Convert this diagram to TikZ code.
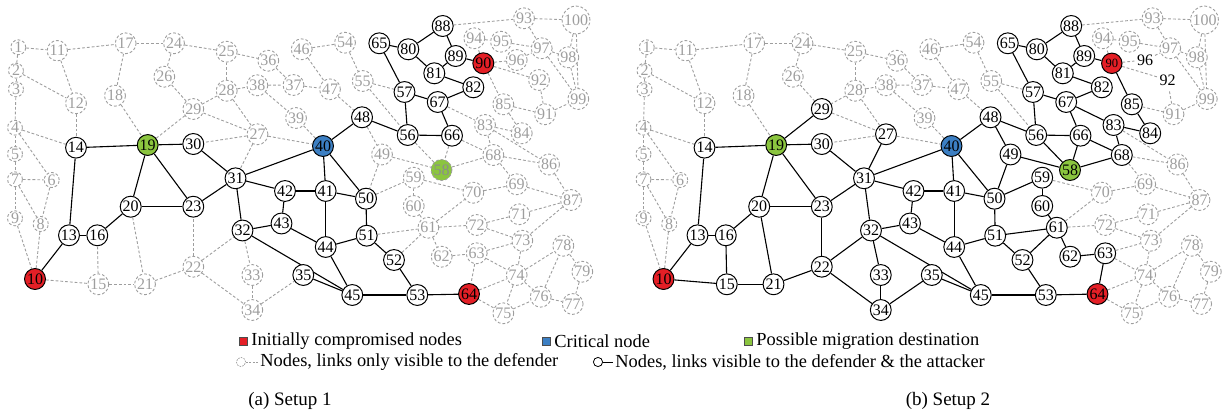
\documentclass[tikz,border=0pt]{standalone}
\usepackage{fontspec}
\setmainfont{Liberation Serif}
\pgfdeclarelayer{bg}
\pgfsetlayers{bg,main}

\definecolor{cred}{HTML}{E41F26}
\definecolor{cblue}{HTML}{3C7FC3}
\definecolor{cgreen}{HTML}{8BC53F}
\definecolor{cgrey}{HTML}{9E9E9E}

\newcommand\graphfont{\fontsize{8}{9}\selectfont}
\newcommand\legendfont{\fontsize{9.2}{11}\selectfont}
\newcommand\capfont{\fontsize{9.5}{11}\selectfont}

\tikzset{
  vis/.style={circle, draw=black, line width=0.5pt, fill=white, inner sep=0.3pt, font=\graphfont},
  hid/.style={circle, draw=cgrey, line width=0.45pt, dash pattern=on 1.4pt off 1pt,
              fill=white, text=cgrey, inner sep=0.3pt, font=\graphfont},
  plain/.style={circle, draw=none, inner sep=0.3pt, font=\graphfont},
  vislink/.style={black, line width=0.55pt},
  hidlink/.style={cgrey, line width=0.45pt, dash pattern=on 1.4pt off 1pt},
  legsq/.style={rectangle, draw=black!70, line width=0.3pt, minimum size=3.8pt, inner sep=0pt},
  legtext/.style={anchor=west, inner sep=0pt, font=\legendfont},
}

% node positions of the network (left copy; the right copy is shifted)
\def\nodepos{1/18.3/47.3, 2/16/70.7, 3/16/89.3, 4/15/127.7, 5/15/154, 6/51.7/180,
  7/15/179.3, 8/40.7/224, 9/15/218.3, 10/35/279, 11/57.3/50.7, 12/76/103.3,
  13/69/235.3, 14/76/147.7, 15/98.3/284.3, 16/97.3/235.3, 17/125.7/43.3, 18/115/95.7,
  19/147.7/145, 20/130.7/206.7, 21/145/284.3, 22/193.3/266.7, 23/193.3/206.7,
  24/174/43.3, 25/226.7/51.7, 26/164.3/76.7, 27/257.5/134.3, 28/226.7/90.7,
  29/193.3/109, 30/193.3/144, 31/235.5/178.3, 32/242.5/230.5, 33/252.3/275,
  34/252.3/310, 35/303.3/275, 36/268.3/60.7, 37/293.5/85, 38/257.3/85.3, 39/296/118,
  40/323/146, 41/325.7/191, 42/285/191, 43/281.5/223.5, 44/325.7/247, 45/352.3/295,
  46/301.7/49.3, 47/330/89.3, 48/362/117.3, 49/382/154.5, 50/366/198.7,
  51/366.7/235.7, 52/394/260, 53/417.3/295, 54/345/42.7, 55/362.7/81, 56/407.7/135,
  57/404.5/92, 58/441.5/170, 59/413.7/177.7, 60/413.7/206, 61/428.3/227.7,
  62/441.7/256.7, 63/476.7/253.3, 64/469/294, 65/379.3/43.3, 66/452/135.7,
  67/437.7/102, 68/493.3/155, 69/516.7/184.3, 70/473.3/192.7, 71/519.3/214.3,
  72/476.7/225, 73/522.3/240.7, 74/516.7/275, 75/503.3/313.3, 76/540.7/296.7,
  77/572.7/304, 78/563.3/245.7, 79/582.3/271.7, 80/408.3/49.3, 81/434.3/73.3,
  82/473.3/87.3, 83/485/125, 84/521.7/133.3, 85/503.3/104.3, 86/549/164.5,
  87/571/200, 88/442.7/26, 89/455.7/56, 90/483.3/63.3, 91/545/114.3, 92/539/80,
  93/524/18.3, 94/474.3/38.3, 95/501/41.7, 96/516.7/60, 97/541.7/48.3,
  98/568.3/57.3, 99/578.3/99, 100/576/20}

% links seen by the attacker in both setups
\def\linksA{10/13, 13/14, 13/16, 16/20, 14/19, 19/20, 19/23, 19/30, 20/23, 30/31,
  23/31, 31/40, 31/42, 31/32, 42/41, 42/43, 32/43, 43/44, 32/45, 35/45, 44/45,
  45/53, 53/64, 52/53, 51/52, 44/51, 41/44, 41/50, 40/41, 40/50, 40/48, 50/51,
  48/56, 56/57, 57/65, 56/66, 57/67, 66/67, 67/82, 81/82, 80/81, 65/80, 80/88,
  88/89, 81/89, 89/90}

% links hidden in setup 1, visible in setup 2
\def\linksX{10/15, 15/16, 15/21, 20/21, 21/22, 22/23, 22/32, 22/34, 32/33, 33/34,
  34/35, 19/29, 27/31, 48/49, 49/50, 49/58, 56/58, 66/58, 58/68, 66/68, 50/59,
  59/60, 60/61, 51/61, 52/61, 61/62, 62/63, 63/64, 67/83, 83/68, 83/84, 85/84, 90/85}

% links only the defender sees in both setups
\def\linksH{1/11, 1/2, 2/3, 3/4, 4/5, 5/7, 7/6, 7/9, 7/8, 6/8, 8/10, 9/10, 2/12,
  11/12, 12/14, 4/14, 4/6, 11/17, 17/24, 17/18, 18/19, 24/25, 24/26, 26/29, 25/36,
  25/28, 36/37, 28/38, 38/37, 28/29, 29/27, 28/27, 27/30, 27/40, 38/39, 39/40,
  37/47, 46/54, 46/47, 54/55, 55/57, 55/56, 47/48, 59/70, 61/70, 61/72, 72/71,
  72/73, 71/87, 70/69, 68/69, 68/86, 69/87, 86/87, 87/73, 73/74, 74/75, 74/76,
  74/78, 75/76, 76/78, 76/77, 78/79, 79/77, 83/86, 85/91, 91/92, 91/99, 90/92,
  90/96, 90/94, 88/93, 93/97, 93/100, 94/95, 95/97, 96/97, 97/98, 97/99, 100/98,
  100/99, 98/99, 63/73, 63/74, 64/74, 64/75}

\begin{document}
\begin{tikzpicture}[x=0.5pt, y=-0.5pt]
\useasboundingbox (0,0) rectangle (1228,418);

\foreach \n/\px/\py in \nodepos {
  \coordinate (pa\n) at (\px,\py);
  \coordinate (pb\n) at (\px+628.5,\py);
}

% ---- Setup 1 ----
\foreach \n in {13,14,16,20,23,30,31,32,35,41,42,43,44,45,48,50,51,52,53,56,57,
                65,66,67,80,81,82,88,89}
  \node[vis] (A\n) at (pa\n) {\n};
\foreach \n in {10,64,90} \node[vis, fill=cred] (A\n) at (pa\n) {\n};
\node[vis, fill=cblue] (A40) at (pa40) {40};
\node[vis, fill=cgreen] (A19) at (pa19) {19};
\node[hid, fill=cgreen, text=black!45] (A58) at (pa58) {58};
\foreach \n in {1,2,3,4,5,6,7,8,9,11,12,15,17,18,21,22,24,25,26,27,28,29,33,34,
                36,37,38,39,46,47,49,54,55,59,60,61,62,63,68,69,70,71,72,73,74,75,
                76,77,78,79,83,84,85,86,87,91,92,93,94,95,96,97,98,99,100}
  \node[hid] (A\n) at (pa\n) {\n};

% ---- Setup 2 ----
\foreach \n in {13,14,15,16,20,21,22,23,27,29,30,31,32,33,34,35,41,42,43,44,45,
                48,49,50,51,52,53,56,57,59,60,61,62,63,65,66,67,68,80,81,82,83,84,
                85,88,89}
  \node[vis] (B\n) at (pb\n) {\n};
\foreach \n in {10,64} \node[vis, fill=cred] (B\n) at (pb\n) {\n};
\node[vis, fill=cred, minimum size=10.2pt, font=\fontsize{6.3}{7}\selectfont] (B90) at (pb90) {90};
\node[vis, fill=cblue] (B40) at (pb40) {40};
\node[vis, fill=cgreen] (B19) at (pb19) {19};
\node[vis, fill=cgreen] (B58) at (pb58) {58};
\foreach \n in {92,96} \node[plain] (B\n) at (pb\n) {\n};
\foreach \n in {1,2,3,4,5,6,7,8,9,11,12,17,18,24,25,26,28,36,37,38,39,46,47,54,
                55,69,70,71,72,73,74,75,76,77,78,79,86,87,91,93,94,95,97,98,99,100}
  \node[hid] (B\n) at (pb\n) {\n};

% ---- links ----
\begin{pgfonlayer}{bg}
\foreach \u/\v in \linksA {
  \draw[vislink] (A\u) -- (A\v);
  \draw[vislink] (B\u) -- (B\v);
}
\foreach \u/\v in \linksX {
  \draw[hidlink] (A\u) -- (A\v);
  \draw[vislink] (B\u) -- (B\v);
}
\foreach \u/\v in \linksH {
  \draw[hidlink] (A\u) -- (A\v);
  \draw[hidlink] (B\u) -- (B\v);
}
\end{pgfonlayer}

% ---- legend ----
\node[legsq, fill=cred] (kred) at (243,341) {};
\node[legtext] (tred) at (251,341) {Initially compromised nodes};
\node[legsq, fill=cblue] (kblue) at (546,341) {};
\node[legtext] (tblue) at (554,341) {Critical node};
\node[legsq, fill=cgreen] (kgreen) at (748,341) {};
\node[legtext] (tgreen) at (756,341) {Possible migration destination};

\node[circle, draw=cgrey, line width=0.35pt, dash pattern=on 0.8pt off 0.6pt,
      minimum size=4.6pt, inner sep=0pt] (khid) at (241,362) {};
\coordinate (khidend) at (259,362);
\draw[hidlink, dash pattern=on 1pt off 0.7pt] (khid) -- (khidend);
\node[legtext] (thid) at (260,362) {Nodes, links only visible to the defender};

\node[circle, draw=black, line width=0.4pt, minimum size=4.6pt, inner sep=0pt]
      (kvis) at (598,362) {};
\coordinate (kvisend) at (613,362);
\draw[vislink, line width=0.45pt] (kvis) -- (kvisend);
\node[legtext] (tvis) at (615,362) {Nodes, links visible to the defender \& the attacker};

% ---- captions ----
\node[font=\capfont] (capa) at (290,401) {(a) Setup 1};
\node[font=\capfont] (capb) at (948,401) {(b) Setup 2};
\end{tikzpicture}
\end{document}
